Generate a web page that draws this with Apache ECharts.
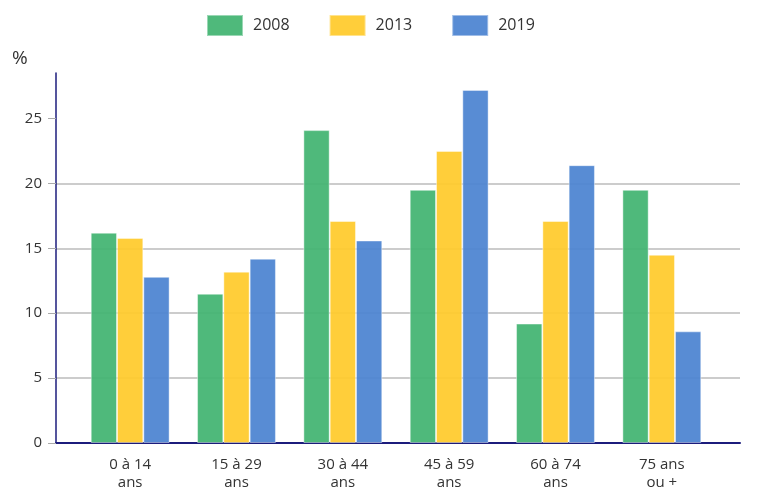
<!DOCTYPE html>
<html><head><meta charset="utf-8">
<script src="https://cdn.jsdelivr.net/npm/echarts@6/dist/echarts.min.js"></script>
<style>html,body{margin:0;padding:0;background:#fff}#c{width:758px;height:497px}</style>
</head><body><div id="c"></div>
<script>
const categories = ['0 à 14\nans', '15 à 29\nans', '30 à 44\nans', '45 à 59\nans', '60 à 74\nans', '75 ans\nou +'];
const seriesNames = ['2008', '2013', '2019'];
const values2008 = [16.2, 11.5, 24.1, 19.5, 9.2, 19.5];
const values2013 = [15.8, 13.2, 17.1, 22.5, 17.1, 14.5];
const values2019 = [12.8, 14.2, 15.6, 27.2, 21.4, 8.6];
const yTicks = [0, 5, 10, 15, 20, 25];
const colors = ['#46b574', '#ffcb2f', '#4f86d2'];

const font = '"Open Sans", "Noto Sans", sans-serif';
const chart = echarts.init(document.getElementById('c'));
const yMax = 28.5;
const allVals = [values2008, values2013, values2019];
chart.setOption({
  animation: false,
  textStyle: { fontFamily: font },
  legend: {
    top: 9, left: 201, itemWidth: 36, itemHeight: 21, itemGap: 39,
    icon: 'rect',
    textStyle: { fontSize: 16, color: '#333', fontFamily: font, padding: [0, 0, 0, 5] },
    data: seriesNames
  },
  graphic: [{ type: 'text', left: 12, top: 49, style: { text: '%', fontSize: 19, fill: '#333', fontFamily: font } }],
  grid: [
    { left: 56, right: 18, top: 73, bottom: 54 },
    { left: 77, right: 43, top: 73, bottom: 54 }
  ],
  xAxis: [
    { gridIndex: 0, type: 'category', data: categories.map(() => ''),
      axisLine: { lineStyle: { color: '#1c1c7c', width: 2 } }, axisTick: { show: false }, axisLabel: { show: false } },
    { gridIndex: 1, type: 'category', data: categories,
      axisLine: { show: false }, axisTick: { show: false },
      axisLabel: { margin: 13, fontSize: 15, color: '#333', lineHeight: 18, fontFamily: font } }
  ],
  yAxis: [
    { gridIndex: 0, type: 'value', min: 0, max: yMax, interval: 5,
      axisLine: { show: true, lineStyle: { color: '#1c1c7c', width: 1.5 } },
      axisTick: { show: true, length: 8, lineStyle: { color: '#aaa' }, customValues: yTicks },
      axisLabel: { customValues: yTicks, fontSize: 15, color: '#333', margin: 14, fontFamily: font },
      splitLine: { show: true, showMaxLine: false, showMinLine: false, lineStyle: { color: '#bbb', width: 1.5 } } },
    { gridIndex: 1, type: 'value', min: 0, max: yMax, show: false, splitLine: { show: false } }
  ],
  series: seriesNames.map((n, i) => ({
    name: n, type: 'bar', xAxisIndex: 1, yAxisIndex: 1,
    data: allVals[i], barWidth: 26.3, barGap: '0%',
    itemStyle: { color: colors[i], opacity: 0.95, borderColor: 'rgba(255,255,255,0.45)', borderWidth: 1 }
  })),
  color: colors
});
</script></body></html>
